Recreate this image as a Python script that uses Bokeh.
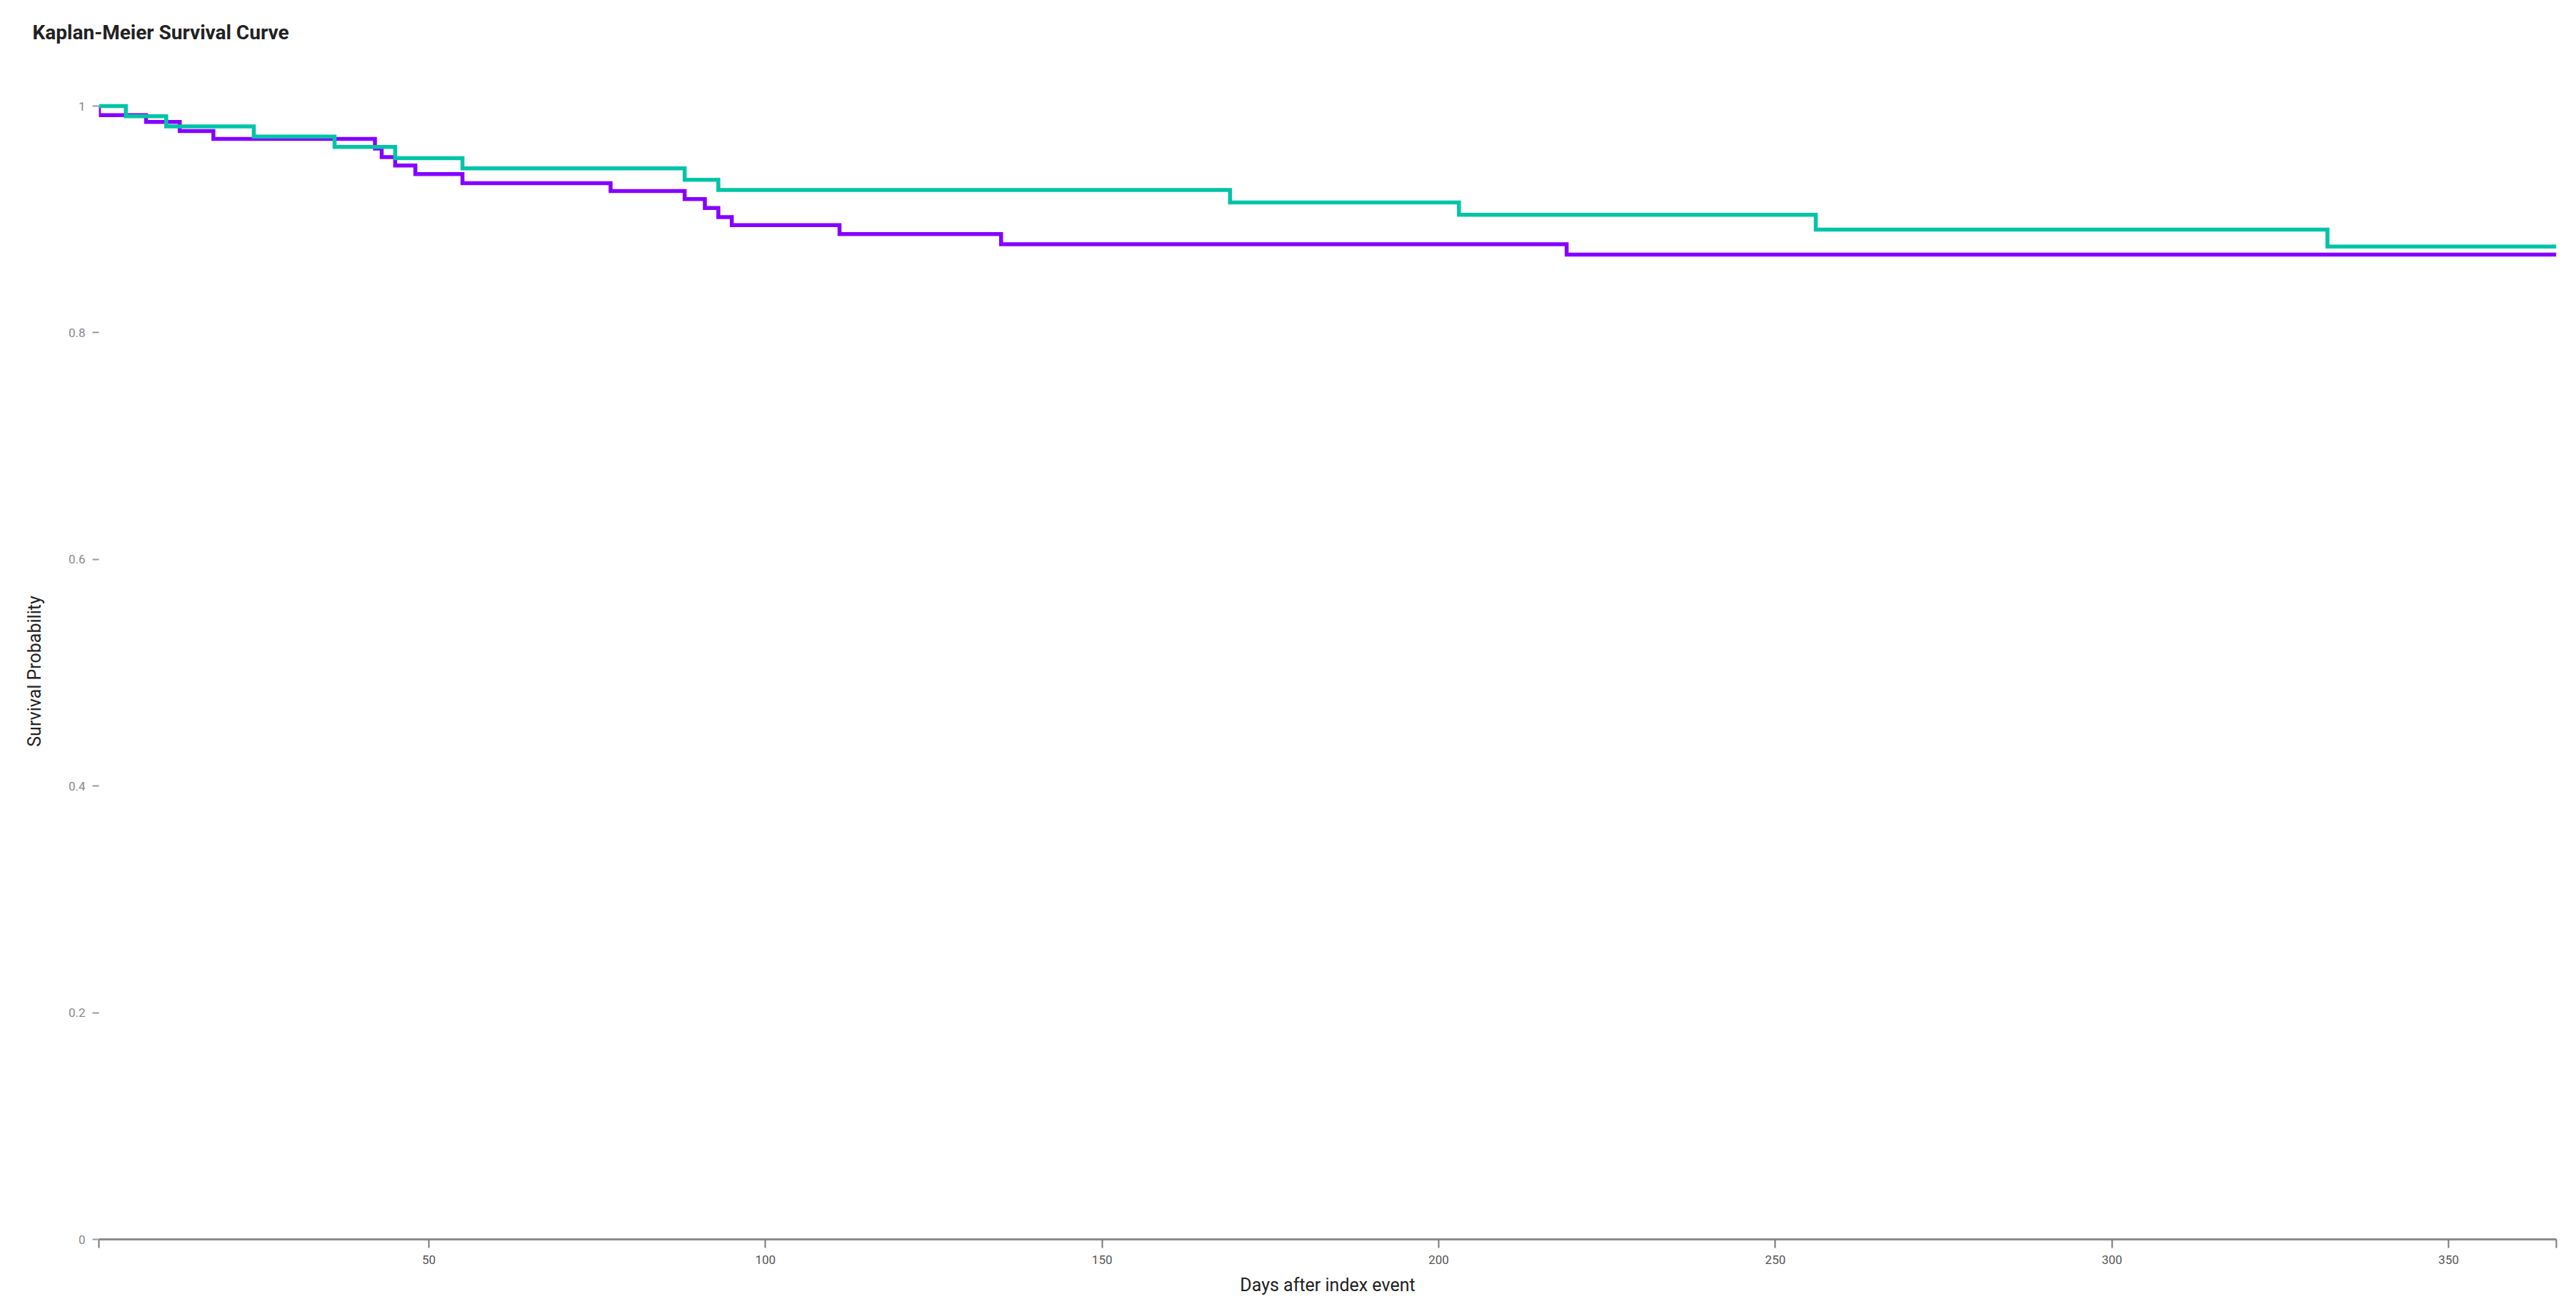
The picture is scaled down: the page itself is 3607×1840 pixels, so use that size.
from bokeh.plotting import figure
from bokeh.models import Range1d, FixedTicker, Title
from bokeh.embed import file_html
from bokeh.resources import INLINE

# ---- data ----
green_days = [1, 5, 11, 24, 36, 45, 55, 88, 93, 169, 203, 256, 332]
green_surv = [1.0, 0.991, 0.982, 0.973, 0.964, 0.954, 0.945, 0.935, 0.926, 0.915, 0.904, 0.891, 0.876]

purple_days = [1, 1, 8, 13, 18, 42, 43, 45, 48, 55, 77, 88, 91, 93, 95, 111, 135, 219]
purple_surv = [1.0, 0.992, 0.986, 0.978, 0.971, 0.9625, 0.955, 0.9475, 0.94, 0.932,
               0.925, 0.918, 0.910, 0.902, 0.895, 0.887, 0.878, 0.869]

day_start = 1
day_end = 366
x_ticks = [50, 100, 150, 200, 250, 300, 350]
y_ticks = [0, 0.2, 0.4, 0.6, 0.8, 1]
title_text = "Kaplan-Meier Survival Curve"

GREEN = "#00c4a7"
PURPLE = "#8500ff"


def step_path(days, surv, end):
    xs, ys = [days[0]], [surv[0]]
    for i in range(1, len(days)):
        xs += [days[i], days[i]]
        ys += [surv[i - 1], surv[i]]
    xs.append(end)
    ys.append(surv[-1])
    return xs, ys


W, H = 3590, 1822
p = figure(width=W, height=H, output_backend="svg", toolbar_location=None,
           x_range=Range1d(day_start, day_end), y_range=Range1d(0, 1 + 4 / 1583),
           min_border_left=138, min_border_right=11, min_border_top=144, min_border_bottom=87,
           background_fill_color="white", border_fill_color="white")
p.outline_line_color = None
p.xgrid.visible = False
p.ygrid.visible = False

px, py = step_path(purple_days, purple_surv, day_end)
gx, gy = step_path(green_days, green_surv, day_end)
p.line(px, py, line_color=PURPLE, line_width=5.5, line_join="miter")
p.line(gx, gy, line_color=GREEN, line_width=5.5, line_join="miter")

# spacer panel between the plot area and the title
p.add_layout(Title(text=" ", text_font_size="1px", standoff=79), "above")

# title
p.title.text = title_text
p.title.text_font = "Roboto"
p.title.text_font_size = "28px"
p.title.text_font_style = "bold"
p.title.text_color = "#222222"
p.title.align = "left"
p.title.vertical_align = "middle"
p.title.offset = -93
p.title.standoff = 0

# x axis
xa = p.xaxis[0]
xa.ticker = FixedTicker(ticks=[day_start] + x_ticks + [day_end])
xa.major_label_overrides = {day_start: "", day_end: ""}
xa.axis_line_color = "#8c8c8c"
xa.axis_line_width = 3
xa.major_tick_line_color = "#777777"
xa.major_tick_line_width = 2
xa.major_tick_out = 12
xa.major_tick_in = 0
xa.minor_tick_line_color = None
xa.major_label_standoff = 10
xa.major_label_text_font = "Roboto"
xa.major_label_text_font_size = "17px"
xa.major_label_text_color = "#555555"
xa.axis_label = "Days after index event"
xa.axis_label_text_font = "Roboto"
xa.axis_label_text_font_size = "25px"
xa.axis_label_text_font_style = "normal"
xa.axis_label_text_color = "#222222"
xa.axis_label_standoff = 12

# y axis
ya = p.yaxis[0]
ya.ticker = FixedTicker(ticks=y_ticks)
ya.major_label_overrides = {0: "0", 1: "1"}
ya.axis_line_color = None
ya.major_tick_line_color = "#999999"
ya.major_tick_line_width = 2
ya.major_tick_out = 9
ya.major_tick_in = 0
ya.minor_tick_line_color = None
ya.major_label_standoff = 10
ya.major_label_text_font = "Roboto"
ya.major_label_text_font_size = "17px"
ya.major_label_text_color = "#888888"
ya.axis_label = "Survival Probability"
ya.axis_label_text_font = "Roboto"
ya.axis_label_text_font_size = "25px"
ya.axis_label_text_font_style = "normal"
ya.axis_label_text_color = "#222222"
ya.axis_label_standoff = 30

open("out.html", "w").write(file_html(p, INLINE))
